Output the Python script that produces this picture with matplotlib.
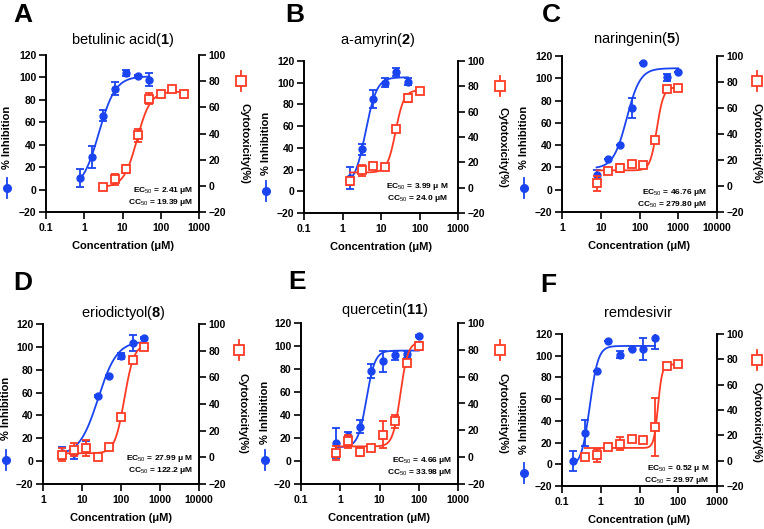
import numpy as np
import matplotlib
matplotlib.use('Agg')
import matplotlib.pyplot as plt
from matplotlib.lines import Line2D

plt.rcParams['font.family'] = ['Liberation Sans', 'DejaVu Sans']
plt.rcParams['mathtext.fontset'] = 'custom'
plt.rcParams['mathtext.rm'] = 'Liberation Sans'
plt.rcParams['mathtext.bf'] = 'Liberation Sans:bold'

BLUE = '#1a44f0'
RED = '#ff3a24'
W, H = 764, 529

# ---- data (concentration in uM, inhibition %, cytotoxicity %) ----
letters = ['A', 'B', 'C', 'D', 'E', 'F']
titles = [r'betulinic acid($\mathbf{1}$)', r'a-amyrin($\mathbf{2}$)', r'naringenin($\mathbf{5}$)',
          r'eriodictyol($\mathbf{8}$)', r'quercetin($\mathbf{11}$)', 'remdesivir']
ec_texts = ['EC$_{50}$ = 2.41 μM', 'EC$_{50}$ = 3.99 μ M', 'EC$_{50}$ = 46.76 μM',
            'EC$_{50}$ = 27.99 μ M', 'EC$_{50}$ = 4.66 μM', 'EC$_{50}$ = 0.52 μ M']
cc_texts = ['CC$_{50}$ = 19.39 μM', 'CC$_{50}$ = 24.0 μM', 'CC$_{50}$ = 279.80 μM',
            'CC$_{50}$ = 122.2 μM', 'CC$_{50}$ = 33.98 μM', 'CC$_{50}$ = 29.97 μM']
xlims = [(0.1, 1000), (0.1, 1000), (1, 10000), (1, 10000), (0.1, 1000), (0.1, 1000)]

inh_x = [[0.78, 1.56, 3.125, 6.25, 12.5, 25, 50],
         [1.56, 3.125, 6.25, 12.5, 25, 50],
         [7.8, 15.6, 31.25, 62.5, 125, 500, 1000],
         [3.125, 6.25, 12.5, 25, 50, 100, 200, 400],
         [0.78, 1.56, 3.125, 6.25, 12.5, 25, 50, 100],
         [0.195, 0.39, 0.78, 1.56, 3.125, 6.25, 12.5, 25]]
inh_y = [[10, 29, 66, 90, 104, 101, 98],
         [12, 38.5, 85, 100, 110, 101],
         [13, 28, 40, 73, 114, 101, 106],
         [7, 7, 12.5, 57, 74.6, 92, 103, 107.7],
         [15.6, 22, 30, 78.5, 86.7, 92, 93, 108.4],
         [3, 29, 85.5, 114, 101, 106, 106, 116]]
inh_err = [[8, 10, 5, 6, 3, 1, 6],
           [10, 5, 8, 4, 4, 3],
           [5, 0, 0, 9, 0, 3, 0],
           [5, 5, 5, 1, 1, 3, 7, 1],
           [13, 3, 6, 6, 9, 4, 3, 1],
           [9, 12, 0, 0, 3, 0, 10, 10]]

cyt_x = [[3.125, 6.25, 12.5, 25, 50, 100, 200, 400],
         [1.56, 3.125, 6.25, 12.5, 25, 50, 100],
         [7.8, 15.6, 31.25, 62.5, 125, 250, 500, 1000],
         [3.125, 6.25, 12.5, 25, 50, 100, 200, 400],
         [0.78, 1.56, 3.125, 6.25, 12.5, 25, 50, 100],
         [0.39, 0.78, 1.56, 3.125, 6.25, 12.5, 25, 50, 100]]
cyt_y = [[-1, 5, 12.6, 38.6, 66.6, 70, 73.8, 70],
         [5, 13.6, 17, 16, 46.5, 70.6, 76],
         [2, 11.5, 14, 17, 16, 35, 74.5, 75.7],
         [2, 5.7, 7, 0, 8, 30.5, 72.7, 83],
         [3, 11.7, 4, 7, 16.6, 26.6, 70, 83],
         [2.8, 4.3, 10.6, 13.5, 17.5, 16, 26.6, 74.4, 76]]
cyt_err = [[0, 4, 3, 5, 4, 1, 1, 0],
           [3, 4, 1, 1, 1, 3, 1],
           [6, 0, 3, 0, 0, 2, 0, 0],
           [5, 5, 6, 1, 1, 1, 1, 1],
           [5, 5, 3, 1, 10, 5, 1, 3],
           [0, 5, 0, 5, 0, 0, 23, 0, 0]]

# 4PL fit parameters (bottom, top, midpoint, hill)
inh_fit = [(0, 101, 2.41, 2.0), (5, 105, 3.99, 3.0), (19, 109, 46.76, 2.5),
           (5, 105, 26, 1.8), (12, 96, 4.66, 4.0), (-2, 109, 0.52, 4.0)]
cyt_fit = [(-1, 72, 24, 2.5), (12, 77, 24, 4.0), (12, 76, 280, 5.0),
           (3, 85, 122, 3.5), (8, 86, 34, 4.5), (10, 76, 30, 8.0)]

# ---- layout in pixels ----
# axes box: left, top, right, bottom
boxes = [(46, 55, 199, 212), (304, 61, 458, 213), (562, 56, 717, 212),
         (43, 324, 199, 484), (301, 323, 458, 484), (562, 334, 717, 486)]
letter_pos = [(23, 15), (295, 15), (551, 15), (23, 283), (297, 282), (548, 285)]
title_pos = [(123, 40), (378, 40), (637, 39), (123, 313), (385, 310), (638, 313)]
inh_leg = [(7, 188), (266, 191), (524, 188), (6, 460), (265, 460), (524, 473)]
inh_lab = [(7, 137), (266, 143), (524, 137), (6, 408), (265, 412), (524, 422)]
cyt_leg = [(241, 81), (500, 86), (757, 81), (239, 350), (500, 350), (757, 360)]
cyt_lab = [(245, 143), (503, 147), (757, 143), (243, 413), (503, 413), (757, 422)]
ec_pos = [(193, 190), (448, 187), (707, 193), (193, 458), (452, 461), (709, 468)]


def fx(x):
    return x / W


def fy(y):
    return 1 - y / H


def logistic(x, p):
    b, t, m, h = p
    return b + (t - b) / (1 + (m / x) ** h)


fig = plt.figure(figsize=(W / 100, H / 100), dpi=100)

for i in range(6):
    l, t, r, b = boxes[i]
    ax = fig.add_axes([fx(l), fy(b), (r - l) / W, (b - t) / H])
    ax2 = ax.twinx()

    # inhibition (left axis)
    xs = np.array(inh_x[i])
    xc = np.logspace(np.log10(xs.min()), np.log10(xs.max()), 200)
    ax.plot(xc, logistic(xc, inh_fit[i]), color=BLUE, lw=1.3, zorder=2)
    ax.errorbar(xs, inh_y[i], yerr=inh_err[i], fmt='o', color=BLUE, ms=5,
                capsize=3, elinewidth=1.3, capthick=1.3, zorder=3)

    # cytotoxicity (right axis)
    xs2 = np.array(cyt_x[i])
    xc2 = np.logspace(np.log10(xs2.min()), np.log10(xs2.max()), 200)
    ax2.plot(xc2, logistic(xc2, cyt_fit[i]), color=RED, lw=1.3, zorder=2)
    ax2.errorbar(xs2, cyt_y[i], yerr=cyt_err[i], fmt='s', color=RED, mfc='white',
                 mec=RED, mew=1.3, ms=6, capsize=3, elinewidth=1.3, capthick=1.3, zorder=3)

    ax.set_xscale('log')
    ax.set_xlim(*xlims[i])
    dec = np.logspace(np.log10(xlims[i][0]), np.log10(xlims[i][1]),
                      int(round(np.log10(xlims[i][1] / xlims[i][0]))) + 1)
    ax.set_xticks(dec)
    ax.set_xticklabels([('%g' % d) for d in dec])
    ax.xaxis.set_minor_locator(matplotlib.ticker.NullLocator())
    ax.set_ylim(-20, 120)
    ax.set_yticks(np.arange(-20, 121, 20))
    ax2.set_ylim(-20, 100)
    ax2.set_yticks(np.arange(-20, 101, 20))

    for a in (ax, ax2):
        a.spines['top'].set_visible(False)
        for s in a.spines.values():
            s.set_linewidth(1.2)
        a.tick_params(width=1.2, length=5, labelsize=7.5, pad=2)
        for lab in a.get_xticklabels() + a.get_yticklabels():
            lab.set_fontweight('bold')
    ax.tick_params(axis='x', pad=3)
    ax.set_xlabel('Concentration (μM)', fontsize=8, fontweight='bold', labelpad=6)

    fig.text(fx(letter_pos[i][0]), fy(letter_pos[i][1]), letters[i], fontsize=19,
             fontweight='bold', ha='center', va='center')
    fig.text(fx(title_pos[i][0]), fy(title_pos[i][1]), titles[i], fontsize=10.5,
             ha='center', va='center')
    fig.text(fx(inh_lab[i][0]), fy(inh_lab[i][1]), '% Inhibition', fontsize=8,
             fontweight='bold', rotation=90, ha='center', va='center')
    fig.text(fx(cyt_lab[i][0]), fy(cyt_lab[i][1]), 'Cytotoxicity(%)', fontsize=8,
             fontweight='bold', rotation=270, ha='center', va='center')
    fig.text(fx(ec_pos[i][0]), fy(ec_pos[i][1]), ec_texts[i], fontsize=6,
             fontweight='bold', ha='right', va='center')
    fig.text(fx(ec_pos[i][0]), fy(ec_pos[i][1] + 12), cc_texts[i], fontsize=6,
             fontweight='bold', ha='right', va='center')

    # legend symbols next to axis titles
    bx, by = inh_leg[i]
    fig.add_artist(Line2D([fx(bx), fx(bx)], [fy(by - 10), fy(by + 10)], color=BLUE,
                          lw=1.3, transform=fig.transFigure))
    fig.add_artist(Line2D([fx(bx)], [fy(by)], marker='o', ms=5.5, color=BLUE,
                          transform=fig.transFigure))
    rx, ry = cyt_leg[i]
    fig.add_artist(Line2D([fx(rx), fx(rx)], [fy(ry - 10), fy(ry + 10)], color=RED,
                          lw=1.3, transform=fig.transFigure))
    fig.add_artist(Line2D([fx(rx)], [fy(ry)], marker='s', ms=6.5, color=RED, mfc='white',
                          mew=1.3, transform=fig.transFigure))

fig.savefig('out.png', dpi=100)
